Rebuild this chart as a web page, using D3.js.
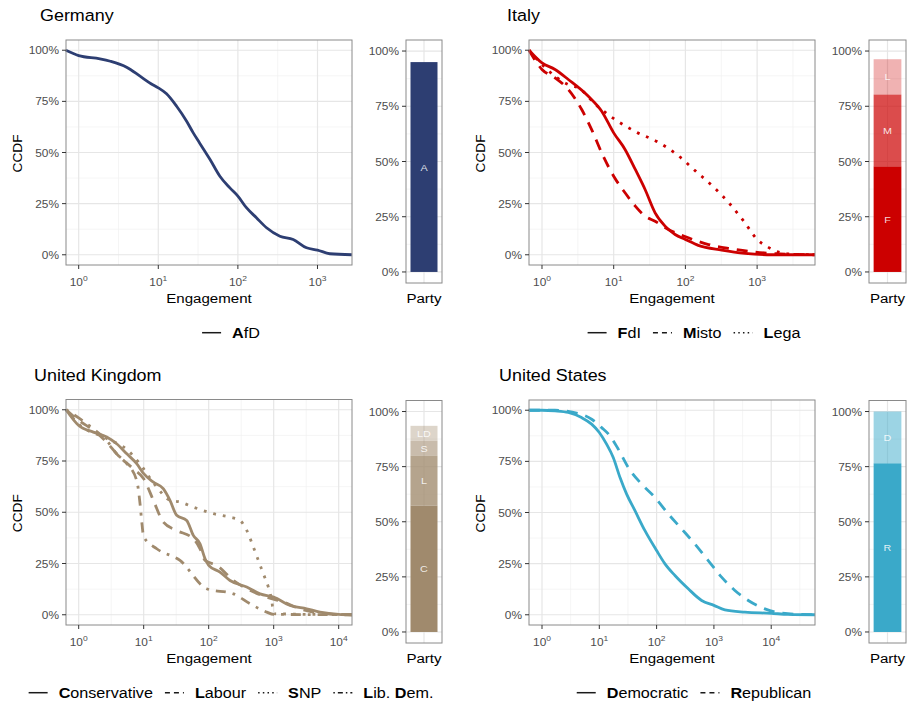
<!DOCTYPE html>
<html>
<head>
<meta charset="utf-8">
<script src="https://cdn.jsdelivr.net/npm/d3@7"></script>
<style>
  body { margin: 0; background: #fff; }
  text { font-family: "Liberation Sans", Arial, Helvetica, sans-serif; }
</style>
</head>
<body>
<svg id="chart" width="911" height="705"></svg>
<script>
// ---- data: [engagement, ccdf] ----
const deAfD = [[0.69,1],[1,0.974],[1.85,0.958],[2.5,0.946],[4,0.917],[5.9,0.873],[8.2,0.835],[10,0.816],[12.7,0.787],[17,0.726],[22.7,0.653],[27.5,0.596],[33,0.547],[44.7,0.466],[59.4,0.384],[79.4,0.327],[100,0.287],[128,0.23],[171,0.181],[229,0.132],[337,0.091],[495,0.075],[728,0.034],[1000,0.023],[1430,0.005],[2700,0]];

const itFdI = [[0.66,1],[1,0.938],[1.52,0.906],[2.33,0.857],[4.43,0.775],[6.8,0.702],[10,0.596],[14.4,0.515],[20,0.417],[27.4,0.319],[37.8,0.205],[52,0.14],[71.8,0.099],[100,0.075],[151,0.046],[321,0.023],[676,0.007],[1600,0],[6400,0]];
const itMisto = [[0.66,1],[1,0.906],[1.52,0.865],[2.33,0.808],[3.58,0.71],[4.93,0.612],[6.8,0.498],[10,0.384],[14.4,0.303],[20,0.238],[27.4,0.189],[37.8,0.164],[58,0.124],[110,0.083],[210,0.05],[443,0.029],[936,0.013],[2750,0.003],[6400,0]];
const itLega = [[0.66,1],[1,0.93],[2.33,0.832],[3.21,0.816],[5.79,0.73],[10.5,0.661],[20.9,0.599],[42,0.55],[78,0.487],[139,0.409],[246,0.332],[411,0.251],[652,0.164],[1020,0.072],[1393,0.039],[2000,0.013],[3000,0.003],[6400,0]];

const ukCon = [[0.64,1],[1,0.923],[1.68,0.891],[2.7,0.867],[3.84,0.834],[5.5,0.785],[7.8,0.737],[10,0.688],[14.1,0.647],[20,0.615],[25.4,0.558],[32.2,0.485],[45.9,0.46],[58,0.387],[73.6,0.346],[88,0.273],[100,0.241],[149,0.208],[213,0.167],[385,0.135],[617,0.102],[1000,0.086],[1780,0.046],[3220,0.029],[5160,0.013],[10000,0.002],[16000,0]];
const ukLab = [[0.64,1],[1,0.948],[1.68,0.9],[2.7,0.842],[3.84,0.785],[6.9,0.712],[10,0.663],[14.1,0.558],[20,0.452],[32.2,0.411],[58,0.371],[73.6,0.322],[88,0.265],[133,0.241],[240,0.167],[432,0.119],[780,0.086],[1410,0.062],[2540,0.029],[8300,0.002],[16000,0]];
const ukSNP = [[0.64,1],[1,0.93],[2.7,0.86],[5.8,0.8],[8.3,0.745],[15.9,0.623],[25.4,0.558],[36.2,0.55],[58,0.525],[118,0.493],[213,0.476],[303,0.46],[385,0.411],[487,0.33],[581,0.265],[693,0.2],[828,0.135],[933,0.07],[1000,0.005],[16000,0]];
const ukLD = [[0.64,1],[1,0.96],[1.68,0.907],[2.7,0.85],[3.84,0.785],[5.5,0.737],[7.8,0.655],[8.8,0.54],[9.3,0.46],[10,0.38],[15.9,0.322],[36.2,0.265],[93,0.127],[240,0.102],[432,0.054],[780,0.013],[1000,0.002],[16000,0]];

const usDem = [[0.59,1],[1,1],[1.69,0.997],[2.88,0.989],[4.9,0.964],[7.35,0.932],[10,0.891],[13.4,0.834],[17.5,0.769],[23,0.671],[30,0.59],[41.9,0.509],[62.6,0.411],[100,0.314],[140,0.249],[209,0.192],[357,0.127],[610,0.07],[1000,0.046],[1556,0.024],[3470,0.013],[10000,0.007],[19800,0.002],[58000,0]];
const usRep = [[0.59,1],[1.69,1],[4.3,0.984],[7.35,0.956],[11,0.915],[15.3,0.875],[21.4,0.81],[32,0.72],[54.7,0.639],[93.4,0.574],[160,0.493],[273,0.42],[466,0.346],[796,0.265],[1360,0.184],[2324,0.119],[3980,0.07],[7760,0.029],[15100,0.008],[58000,0]];

// party shares (stacked bar, bottom to top)
const deShares = [0.95], deLetters = ["A"];
const itShares = [0.478, 0.325, 0.16], itLetters = ["F", "M", "L"];
const ukShares = [0.573, 0.227, 0.067, 0.068], ukLetters = ["C", "L", "S", "LD"];
const usShares = [0.765, 0.235], usLetters = ["R", "D"];

// legend labels: alternating bold / plain pieces
const deNames = [["A", "fD"]];
const itNames = [["F", "dI"], ["M", "isto"], ["L", "ega"]];
const ukNames = [["C", "onservative"], ["L", "abour"], ["S", "NP"], ["L", "ib. ", "D", "em."]];
const usNames = [["D", "emocratic"], ["R", "epublican"]];

// ---- drawing ----
const svg = d3.select("#chart");
const SX = 1.1; // picture is a bit wider than tall
const lineTypes = ["solid", "dashed", "dotted", "dotdash"];
const dashes = { solid: null, dashed: "11,8", dotted: "2.8,7", dotdash: "2.8,7,10,7" };
const keyDashes = { solid: null, dashed: "5,4", dotted: "1.5,3.2", dotdash: "1.5,3,5,3" };

const txt = (parent, x, y, size) => parent.append("text")
    .attr("transform", `translate(${x},${y}) scale(${SX},1)`)
    .attr("font-size", size);

function drawPanel(p) {
  const g = svg.append("g");
  const box = p.box, bar = p.bar;

  const x = d3.scaleLog().domain(p.xdom).range([box.l, box.r]);
  const y = d3.scaleLinear().domain([-0.05, 1.05]).range([box.b, box.t]);

  const lo = Math.log10(p.xdom[0]), hi = Math.log10(p.xdom[1]);
  const majX = d3.range(Math.ceil(lo), Math.floor(hi) + 1);
  const minX = d3.range(Math.ceil(lo - 0.5), Math.floor(hi - 0.5) + 1).map(k => Math.pow(10, k + 0.5));
  const majY = [0, 0.25, 0.5, 0.75, 1], minY = [0.125, 0.375, 0.625, 0.875];

  // title
  txt(g, p.tx, p.ty, 16.3).attr("fill", "#000").text(p.title);

  // --- ccdf panel ---
  const grid = g.append("g");
  grid.selectAll(".mnx").data(minX).enter().append("line")
    .attr("x1", d => x(d)).attr("x2", d => x(d)).attr("y1", box.t).attr("y2", box.b)
    .attr("stroke", "#f0f0f0").attr("stroke-width", 0.7);
  grid.selectAll(".mny").data(minY).enter().append("line")
    .attr("x1", box.l).attr("x2", box.r).attr("y1", d => y(d)).attr("y2", d => y(d))
    .attr("stroke", "#f0f0f0").attr("stroke-width", 0.7);
  grid.selectAll(".mjx").data(majX).enter().append("line")
    .attr("x1", d => x(Math.pow(10, d))).attr("x2", d => x(Math.pow(10, d))).attr("y1", box.t).attr("y2", box.b)
    .attr("stroke", "#e6e6e6").attr("stroke-width", 1.2);
  grid.selectAll(".mjy").data(majY).enter().append("line")
    .attr("x1", box.l).attr("x2", box.r).attr("y1", d => y(d)).attr("y2", d => y(d))
    .attr("stroke", "#e6e6e6").attr("stroke-width", 1.2);

  const line = d3.line().curve(d3.curveMonotoneX).x(d => x(d[0])).y(d => y(d[1]));
  p.series.forEach((s, i) => {
    g.append("path").datum(s)
      .attr("d", line)
      .attr("fill", "none")
      .attr("stroke", p.color)
      .attr("stroke-width", 2.8)
      .attr("stroke-dasharray", dashes[lineTypes[i]]);
  });

  g.append("rect").attr("x", box.l).attr("y", box.t)
    .attr("width", box.r - box.l).attr("height", box.b - box.t)
    .attr("fill", "none").attr("stroke", "#8a8a8a").attr("stroke-width", 1);

  // y axis
  majY.forEach(v => {
    g.append("line").attr("x1", box.l - 4).attr("x2", box.l).attr("y1", y(v)).attr("y2", y(v))
      .attr("stroke", "#333").attr("stroke-width", 1);
    txt(g, box.l - 7, y(v) + 4, 10.8).attr("text-anchor", "end").attr("fill", "#4d4d4d")
      .text(d3.format(".0%")(v));
  });
  // x axis with 10^k labels
  majX.forEach(k => {
    const px = x(Math.pow(10, k));
    g.append("line").attr("x1", px).attr("x2", px).attr("y1", box.b).attr("y2", box.b + 4)
      .attr("stroke", "#333").attr("stroke-width", 1);
    const t = txt(g, px, box.b + 21, 10.8).attr("text-anchor", "middle").attr("fill", "#4d4d4d");
    t.append("tspan").text("10");
    t.append("tspan").attr("dy", -5).attr("font-size", 7.7).text(k);
  });
  txt(g, (box.l + box.r) / 2, box.b + 38, 13.7).attr("text-anchor", "middle").text("Engagement");
  g.append("text")
    .attr("transform", `translate(${p.ylabX},${(box.t + box.b) / 2 + 1}) rotate(-90)`)
    .attr("text-anchor", "middle").attr("font-size", 13.7).text("CCDF");

  // --- party share bar ---
  const by = d3.scaleLinear().domain([-0.05, 1.05]).range([bar.b, bar.t]);
  const bx = d3.scaleBand().domain(["Party"]).range([bar.l, bar.r]).paddingInner(0.1).paddingOuter(0.15);
  const cx = bx("Party") + bx.bandwidth() / 2;

  minY.forEach(v => g.append("line").attr("x1", bar.l).attr("x2", bar.r).attr("y1", by(v)).attr("y2", by(v))
    .attr("stroke", "#f0f0f0").attr("stroke-width", 0.7));
  majY.forEach(v => g.append("line").attr("x1", bar.l).attr("x2", bar.r).attr("y1", by(v)).attr("y2", by(v))
    .attr("stroke", "#e6e6e6").attr("stroke-width", 1.2));
  g.append("line").attr("x1", cx).attr("x2", cx).attr("y1", bar.t).attr("y2", bar.b)
    .attr("stroke", "#e6e6e6").attr("stroke-width", 1.2);

  const tops = d3.cumsum(p.shares);
  p.shares.forEach((v, i) => {
    const y0 = i === 0 ? 0 : tops[i - 1], y1 = tops[i];
    g.append("rect")
      .attr("x", bx("Party")).attr("width", bx.bandwidth())
      .attr("y", by(y1)).attr("height", by(y0) - by(y1))
      .attr("fill", p.color).attr("fill-opacity", p.alphas[i]);
    txt(g, cx, by((y0 + y1) / 2) + 3.5, 9.8).attr("text-anchor", "middle")
      .attr("fill", "#fff").attr("fill-opacity", 0.85).text(p.letters[i]);
  });

  g.append("rect").attr("x", bar.l).attr("y", bar.t)
    .attr("width", bar.r - bar.l).attr("height", bar.b - bar.t)
    .attr("fill", "none").attr("stroke", "#8a8a8a").attr("stroke-width", 1);
  majY.forEach(v => {
    g.append("line").attr("x1", bar.l - 4).attr("x2", bar.l).attr("y1", by(v)).attr("y2", by(v))
      .attr("stroke", "#333").attr("stroke-width", 1);
    txt(g, bar.l - 7, by(v) + 4, 10.8).attr("text-anchor", "end").attr("fill", "#4d4d4d")
      .text(d3.format(".0%")(v));
  });
  txt(g, (bar.l + bar.r) / 2, box.b + 38, 13.7).attr("text-anchor", "middle").text("Party");

  // --- legend ---
  const lg = g.append("g");
  let pos = 0;
  p.names.forEach((parts, i) => {
    lg.append("line").attr("x1", pos).attr("x2", pos + 19).attr("y1", 0).attr("y2", 0)
      .attr("stroke", "#1a1a1a").attr("stroke-width", 1.5)
      .attr("stroke-dasharray", keyDashes[lineTypes[i]]);
    pos += 19 + 11;
    const t = txt(lg, pos, 5.5, 14.7).style("white-space", "pre").attr("fill", "#000");
    parts.forEach((s, j) => t.append("tspan").attr("font-weight", j % 2 === 0 ? "bold" : "normal").text(s));
    pos += t.node().getComputedTextLength() * SX + 12;
  });
  lg.attr("transform", `translate(${p.legX - (pos - 12) / 2},${p.legY})`);
}

drawPanel({
  title: "Germany", tx: 40, ty: 21, ylabX: 22,
  box: { l: 66, r: 352, t: 40, b: 265 }, xdom: [0.693, 2713],
  bar: { l: 406, r: 442, t: 40, b: 283 },
  series: [deAfD], names: deNames, color: "#2d3e72",
  shares: deShares, letters: deLetters, alphas: [1],
  legX: 231, legY: 332.7
});
drawPanel({
  title: "Italy", tx: 507, ty: 21, ylabX: 485,
  box: { l: 529, r: 815, t: 40, b: 265 }, xdom: [0.659, 6416],
  bar: { l: 869, r: 906, t: 40, b: 283 },
  series: [itFdI, itMisto, itLega], names: itNames, color: "#cc0000",
  shares: itShares, letters: itLetters, alphas: [1, 0.7, 0.3],
  legX: 694, legY: 332.7
});
drawPanel({
  title: "United Kingdom", tx: 34, ty: 381, ylabX: 22,
  box: { l: 66, r: 352, t: 399.5, b: 625 }, xdom: [0.638, 16030],
  bar: { l: 406, r: 442, t: 400.5, b: 643 },
  series: [ukCon, ukLab, ukSNP, ukLD], names: ukNames, color: "#a08a6d",
  shares: ukShares, letters: ukLetters, alphas: [1, 0.78, 0.57, 0.36],
  legX: 231, legY: 692.7
});
drawPanel({
  title: "United States", tx: 499, ty: 381, ylabX: 485,
  box: { l: 529, r: 815, t: 400, b: 625 }, xdom: [0.593, 58100],
  bar: { l: 869, r: 906, t: 400.5, b: 643 },
  series: [usDem, usRep], names: usNames, color: "#3aa9c9",
  shares: usShares, letters: usLetters, alphas: [1, 0.5],
  legX: 694, legY: 692.7
});
</script>
</body>
</html>
